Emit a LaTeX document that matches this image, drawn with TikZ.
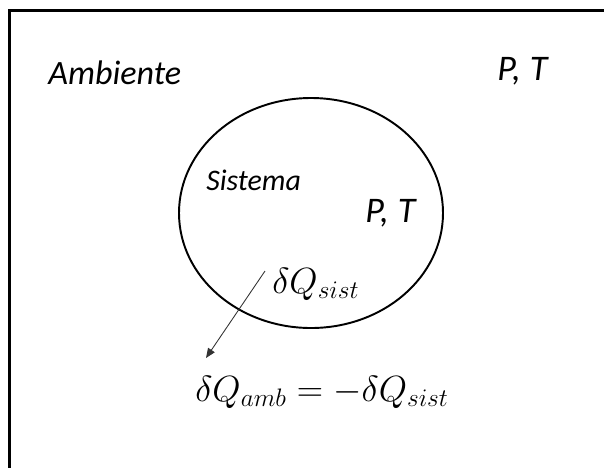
\documentclass[tikz,border=0pt]{standalone}
\usepackage{fontspec}
\setmainfont{Carlito}
\usetikzlibrary{arrows.meta}
\begin{document}
\begin{tikzpicture}[x=0.02cm, y=-0.02cm, >={Triangle[length=5.5pt, width=4.5pt]},
    every node/.style={font=\fontsize{20.5}{24}\selectfont\itshape, inner sep=0pt, anchor=base west},
    eq/.style={font=\fontsize{20}{24}\selectfont}]
        \useasboundingbox (0,0) rectangle (604,467);
        % marco del ambiente
        \draw[line width=1.7pt, line join=miter] (9.5,470) -- (9.5,10.5) -- (610,10.5);
        % sistema
        \draw[line width=1.1pt] (311,213) ellipse (132 and 115);
        \node[font=\fontsize{19.4}{22}\selectfont\itshape] (ambiente) at (48,84) {Ambiente};
        \node (ptamb) at (497,80) {P,\hspace{0.25em}T};
        \node[font=\fontsize{17}{20}\selectfont\itshape] (sistema) at (206,190) {Sistema};
        \node (ptsis) at (365,222) {P,\hspace{0.25em}T};
        \node[eq] (dqsist) at (272,293) {$\delta Q_{sist}$};
        \node[eq] (dqamb)  at (195,401) {$\delta Q_{amb} = -\delta Q_{sist}$};
        % flujo de calor
        \coordinate (qini) at (265,271);
        \coordinate (qfin) at (206,358);
        \draw[->, black!80, line width=0.5pt] (qini) -- (qfin);
    \end{tikzpicture}
\end{document}
